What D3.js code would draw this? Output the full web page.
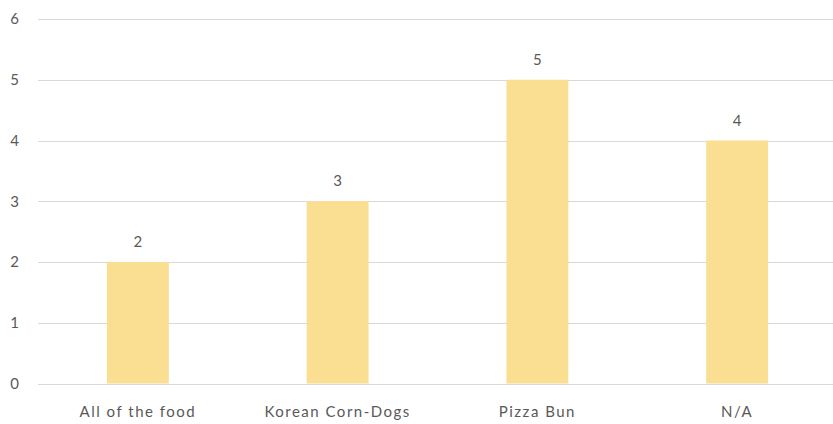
<!DOCTYPE html>
<html>
<head>
<meta charset="utf-8">
<script src="https://cdn.jsdelivr.net/npm/d3@7"></script>
<style>
  body { margin: 0; background: #fff; }
  svg text { font-family: Lato, "Open Sans", sans-serif; fill: #595959; }
</style>
</head>
<body>
<svg id="chart" width="833" height="424"></svg>
<script>
const categories = ["All of the food", "Korean Corn-Dogs", "Pizza Bun", "N/A"];
const values = [2, 3, 5, 4];
const yTicks = [0, 1, 2, 3, 4, 5, 6];

const svg = d3.select("#chart");
const plotLeft = 38, plotRight = 837, plotTop = 19, plotBottom = 383.5;

const x = d3.scaleBand().domain(categories).range([plotLeft, plotRight]).paddingInner(0.69).paddingOuter(0.345);
const y = d3.scaleLinear().domain([0, 6]).range([plotBottom, plotTop]);

// gridlines
svg.append("g")
  .selectAll("line")
  .data(yTicks)
  .join("line")
  .attr("x1", plotLeft)
  .attr("x2", plotRight)
  .attr("y1", d => Math.round(y(d)) + 0.5)
  .attr("y2", d => Math.round(y(d)) + 0.5)
  .attr("stroke", "#d9d9d9")
  .attr("stroke-width", 1.2);

// y tick labels
svg.append("g")
  .selectAll("text")
  .data(yTicks)
  .join("text")
  .attr("x", 19)
  .attr("y", d => y(d))
  .attr("dy", "0.35em")
  .attr("text-anchor", "end")
  .attr("font-size", 15)
  .text(d => d);

// bars
svg.append("g")
  .selectAll("rect")
  .data(values)
  .join("rect")
  .attr("x", (d, i) => x(categories[i]))
  .attr("width", x.bandwidth())
  .attr("y", d => y(d))
  .attr("height", d => y(0) - y(d))
  .attr("fill", "#fadf92");

// value labels
svg.append("g")
  .selectAll("text")
  .data(values)
  .join("text")
  .attr("x", (d, i) => x(categories[i]) + x.bandwidth() / 2)
  .attr("y", d => y(d) - 15)
  .attr("text-anchor", "middle")
  .attr("font-size", 15)
  .text(d => d);

// category labels
svg.append("g")
  .selectAll("text")
  .data(categories)
  .join("text")
  .attr("x", d => x(d) + x.bandwidth() / 2)
  .attr("y", 417)
  .attr("text-anchor", "middle")
  .attr("font-size", 15)
  .attr("letter-spacing", 1.5)
  .text(d => d);
</script>
</body>
</html>
